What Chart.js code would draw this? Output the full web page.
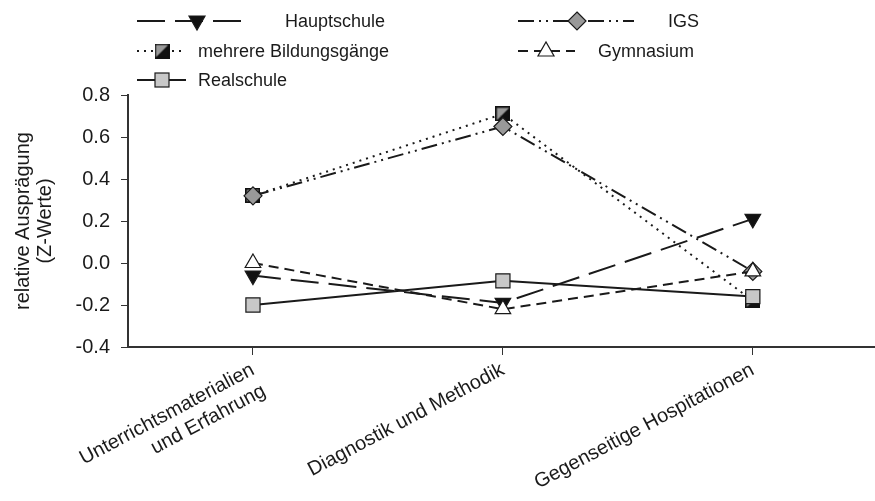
<!DOCTYPE html>
<html>
<head>
<meta charset="utf-8">
<script src="https://cdn.jsdelivr.net/npm/chart.js@4/dist/chart.umd.min.js"></script>
<style>
  html, body { margin: 0; padding: 0; background: #fff; overflow: hidden; }
  canvas { display: block; }
</style>
</head>
<body>
<canvas id="chart" width="889" height="501"></canvas>
<script>
const categories = [['Unterrichtsmaterialien', 'und Erfahrung'], 'Diagnostik und Methodik', 'Gegenseitige Hospitationen'];
const hauptschule = [-0.06, -0.19, 0.21];
const igs = [0.32, 0.65, -0.04];
const mehrere = [0.32, 0.71, -0.18];
const gymnasium = [0.0, -0.22, -0.04];
const realschule = [-0.20, -0.085, -0.16];
const yMin = -0.4, yMax = 0.8, yStep = 0.2;

const FONT = '"Liberation Sans", Arial, sans-serif';
const INK = '#1a1a1a';

// half grey / half black square for "mehrere Bildungsgänge"
function halfSquare(size) {
    const c = document.createElement('canvas');
    c.width = size; c.height = size;
    const g = c.getContext('2d');
    g.fillStyle = '#9a9a9a';
    g.beginPath(); g.moveTo(0, 0); g.lineTo(size, 0); g.lineTo(0, size); g.closePath(); g.fill();
    g.fillStyle = '#111';
    g.beginPath(); g.moveTo(size, 0); g.lineTo(size, size); g.lineTo(0, size); g.closePath(); g.fill();
    g.strokeStyle = '#111'; g.lineWidth = 1.5;
    g.strokeRect(0.75, 0.75, size - 1.5, size - 1.5);
    return c;
}
const halfSq = halfSquare(15);

function marker(ctx, kind, x, y) {
    ctx.save();
    ctx.setLineDash([]);
    ctx.lineWidth = 1.2;
    ctx.strokeStyle = INK;
    if (kind === 'down') {
        ctx.fillStyle = '#111';
        ctx.beginPath(); ctx.moveTo(x - 8, y - 5); ctx.lineTo(x + 8, y - 5); ctx.lineTo(x, y + 9); ctx.closePath();
        ctx.fill(); ctx.stroke();
    } else if (kind === 'up') {
        ctx.fillStyle = '#fff';
        ctx.beginPath(); ctx.moveTo(x - 8, y + 5); ctx.lineTo(x + 8, y + 5); ctx.lineTo(x, y - 9); ctx.closePath();
        ctx.fill(); ctx.stroke();
    } else if (kind === 'diamond') {
        ctx.fillStyle = '#999';
        ctx.beginPath(); ctx.moveTo(x, y - 9); ctx.lineTo(x + 9, y); ctx.lineTo(x, y + 9); ctx.lineTo(x - 9, y); ctx.closePath();
        ctx.fill(); ctx.stroke();
    } else if (kind === 'half') {
        ctx.drawImage(halfSq, x - 7.5, y - 7.5);
    } else if (kind === 'square') {
        ctx.fillStyle = '#c8c8c8';
        ctx.fillRect(x - 7, y - 7, 14, 14);
        ctx.strokeRect(x - 7, y - 7, 14, 14);
    }
    ctx.restore();
}

const legendItems = [
    { text: 'Hauptschule', x1: 137, x2: 245, mx: 197, tx: 285, y: 21, dash: [28, 10], kind: 'down' },
    { text: 'IGS', x1: 518, x2: 634, mx: 577, tx: 668, y: 21, dash: [16, 5, 2, 5, 2, 5], kind: 'diamond' },
    { text: 'mehrere Bildungsgänge', x1: 137, x2: 186, mx: 162, tx: 198, y: 51, dash: [2, 5], kind: 'half' },
    { text: 'Gymnasium', x1: 518, x2: 575, mx: 546, tx: 598, y: 51, dash: [10, 6], kind: 'up' },
    { text: 'Realschule', x1: 137, x2: 186, mx: 162, tx: 198, y: 80, dash: [], kind: 'square' }
];

const legendPlugin = {
    id: 'customLegend',
    afterDraw(chart) {
        const ctx = chart.ctx;
        ctx.save();
        legendItems.forEach(it => {
            ctx.strokeStyle = INK;
            ctx.lineWidth = 2;
            ctx.setLineDash(it.dash);
            ctx.beginPath(); ctx.moveTo(it.x1, it.y); ctx.lineTo(it.x2, it.y); ctx.stroke();
            marker(ctx, it.kind, it.mx, it.y);
            ctx.setLineDash([]);
            ctx.fillStyle = INK;
            ctx.font = '18px ' + FONT;
            ctx.textBaseline = 'middle';
            ctx.fillText(it.text, it.tx, it.y + 1);
        });
        ctx.restore();
    }
};

const base = { borderColor: INK, borderWidth: 2, pointBorderColor: INK, pointBorderWidth: 1.2, tension: 0, fill: false };

new Chart(document.getElementById('chart'), {
    type: 'line',
    data: {
        labels: categories,
        datasets: [
            Object.assign({}, base, { label: 'Realschule', data: realschule, order: 1,
                pointStyle: 'rect', pointRadius: 10, pointBackgroundColor: '#c8c8c8' }),
            Object.assign({}, base, { label: 'Gymnasium', data: gymnasium, order: 2, borderDash: [10, 6],
                pointStyle: 'triangle', pointRadius: 9, pointBackgroundColor: '#fff' }),
            Object.assign({}, base, { label: 'Hauptschule', data: hauptschule, order: 3, borderDash: [28, 10],
                pointStyle: 'triangle', rotation: 180, pointRadius: 9, pointBackgroundColor: '#111' }),
            Object.assign({}, base, { label: 'IGS', data: igs, order: 4, borderDash: [16, 5, 2, 5, 2, 5],
                pointStyle: 'rectRot', pointRadius: 9, pointBackgroundColor: '#999' }),
            Object.assign({}, base, { label: 'mehrere Bildungsgänge', data: mehrere, order: 5, borderDash: [2, 5],
                pointStyle: halfSq, pointRadius: 8 })
        ]
    },
    options: {
        responsive: false,
        animation: false,
        layout: { padding: { top: 95, left: 0, right: 2, bottom: 0 } },
        plugins: { legend: { display: false }, tooltip: { enabled: false } },
        scales: {
            x: {
                offset: true,
                grid: { drawOnChartArea: false, drawTicks: true, tickLength: 8, color: '#333', offset: false },
                border: { color: '#333', width: 2 },
                ticks: { color: INK, font: { family: FONT, size: 20 }, minRotation: 28, maxRotation: 28, padding: 3, autoSkip: false },
                afterFit(scale) { scale.height = 154; }
            },
            y: {
                min: yMin, max: yMax,
                grid: { drawOnChartArea: false, drawTicks: true, tickLength: 7, color: '#333' },
                border: { color: '#333', width: 2 },
                ticks: { stepSize: yStep, color: INK, font: { family: FONT, size: 20 }, padding: 11,
                    callback: v => (Math.abs(v) < 1e-9 ? 0 : v).toFixed(1) },
                title: { display: true, text: ['relative Ausprägung', '(Z-Werte)'], color: INK,
                    font: { family: FONT, size: 20, lineHeight: 1.1 }, padding: { top: 12, bottom: 0 } },
                afterFit(scale) { scale.width = 128; }
            }
        }
    },
    plugins: [legendPlugin]
});
</script>
</body>
</html>
